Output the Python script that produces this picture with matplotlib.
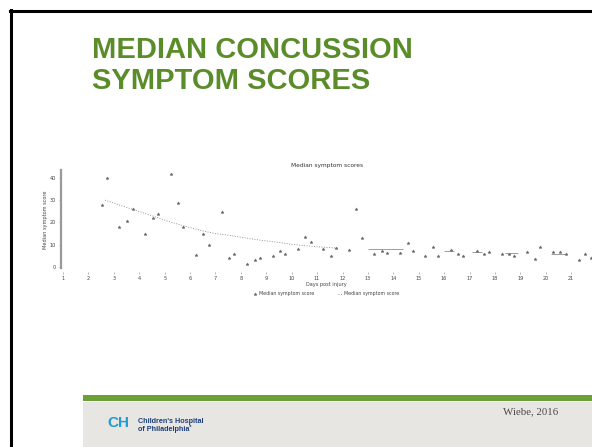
import matplotlib
matplotlib.use("Agg")
import matplotlib.pyplot as plt
from matplotlib.lines import Line2D
from matplotlib.patches import Rectangle

W, H = 592, 447

# scatter: median symptom score per time point (days post injury)
day = [2.52, 2.72, 3.22, 3.5, 3.74, 4.23, 4.53, 4.75, 5.24, 5.53, 5.74,
       6.24, 6.52, 6.75, 7.25, 7.52, 7.74, 8.26, 8.55, 8.76, 9.26, 9.54,
       9.75, 10.25, 10.54, 10.75, 11.25, 11.54, 11.75, 12.25, 12.54, 12.75,
       13.24, 13.55, 13.77, 14.27, 14.56, 14.77, 15.25, 15.55, 15.77,
       16.26, 16.56, 16.76, 17.29, 17.55, 17.76, 18.27, 18.57, 18.76,
       19.27, 19.56, 19.77, 20.28, 20.57, 20.79, 21.29, 21.56, 21.77]
score = [27.8, 39.8, 17.9, 20.8, 26.2, 15.0, 22.1, 23.8, 41.7, 28.8, 17.9,
         5.4, 14.9, 9.9, 24.8, 3.9, 6.0, 1.5, 3.0, 4.0, 5.1, 7.3,
         6.0, 7.9, 13.3, 11.1, 7.9, 4.9, 8.5, 7.5, 25.9, 12.9,
         5.8, 7.0, 6.4, 6.4, 10.9, 7.3, 4.9, 8.8, 4.9,
         7.6, 5.8, 4.9, 7.2, 5.8, 6.9, 5.8, 5.8, 5.1,
         6.9, 3.5, 8.8, 6.9, 6.9, 5.8, 3.0, 5.8, 3.9]

# smoothed median line (dashed part)
line_day = [2.65, 3.7, 4.5, 5.2, 5.8, 6.5, 7.0, 7.5, 8.1, 8.8, 9.6, 10.0,
            10.5, 11.0, 11.8]
line_val = [30.0, 26.0, 23.0, 20.3, 18.3, 16.2, 15.0, 14.3, 13.2, 12.0, 10.9,
            10.2, 9.6, 9.1, 8.5]
# flat stretches of the median line (start day, end day, value)
flat_start = [13.0, 16.0, 17.1, 18.4, 20.2]
flat_end = [14.4, 16.4, 17.5, 18.9, 20.8]
flat_val = [7.9, 7.3, 6.9, 6.1, 5.8]

x_ticks = list(range(1, 22))
y_ticks = [0, 10, 20, 30, 40]

green = "#5b8c2a"
gray = "#666666"

fig = plt.figure(figsize=(W / 100, H / 100), dpi=100)
fig.patch.set_facecolor("white")

def fx(px):
    return px / W

def fy(py):
    return 1 - py / H

# slide frame
fig.add_artist(Line2D([fx(11), fx(11)], [fy(10), 0], color="black", lw=2.2))
fig.add_artist(Line2D([fx(10), 1], [fy(10.5), fy(10.5)], color="black", lw=2.2))

# slide title
fig.text(fx(92), fy(50), "MEDIAN CONCUSSION", color=green, fontsize=21,
         fontweight="bold", family="Liberation Sans", va="center", ha="left")
fig.text(fx(92), fy(81), "SYMPTOM SCORES", color=green, fontsize=21,
         fontweight="bold", family="Liberation Sans", va="center", ha="left")

# chart
ax = fig.add_axes([fx(60.5), fy(272), fx(622) - fx(60.5), fy(170) - fy(272)])
ax.set_facecolor("none")
ax.plot(day, score, linestyle="none", marker="*", markersize=2.3,
        markeredgewidth=0.3, color=gray, label="Median symptom score")
ax.plot(line_day, line_val, linestyle=(0, (1.2, 1.8)), lw=0.6,
        color="#888888", label="Median symptom score")
ax.hlines(flat_val, flat_start, flat_end, color="#777777", lw=0.5)

ax.set_xlim(0.9, 23)
ax.set_ylim(-2.2, 43.5)
ax.set_xticks(x_ticks)
ax.set_yticks(y_ticks)
for s in ["top", "right", "bottom"]:
    ax.spines[s].set_visible(False)
ax.spines["left"].set_color("#999999")
ax.spines["left"].set_linewidth(1.6)
ax.spines["left"].set_bounds(-0.5, 43.5)
ax.tick_params(axis="x", length=1.2, width=0.5, color="#999999",
               labelsize=3.6, labelcolor="#444444", pad=1.5)
ax.tick_params(axis="y", length=1.5, width=0.5, color="#999999",
               labelsize=3.6, labelcolor="#444444", pad=1.5)

ax.set_xlabel("Days post injury", fontsize=3.6, color="#444444")
ax.xaxis.set_label_coords((326 - 60.5) / 561.5, -0.095)
ax.set_ylabel("Median symptom score", fontsize=3.6, color="#444444")
ax.yaxis.set_label_coords(-0.022, 0.51)

fig.text(fx(327), fy(166), "Median symptom scores", fontsize=4.2,
         color="#333333", ha="center", va="center")

ax.legend(loc="center", bbox_to_anchor=(fx(326), fy(294)),
          bbox_transform=fig.transFigure, ncol=2, frameon=False,
          fontsize=3.4, handlelength=1.0, handletextpad=0.4,
          columnspacing=5.0, labelcolor="#444444")

# footer
fig.add_artist(Rectangle((fx(83), 0), 1 - fx(83), fy(402), color="#e8e6e2",
                         lw=0))
fig.add_artist(Rectangle((fx(83), fy(401)), 1 - fx(83), fy(395) - fy(401),
                         color="#6aa137", lw=0))
fig.text(fx(107), fy(423), "CH", color="#1e9ad6", fontsize=11,
         fontweight="bold", family="Liberation Sans", ha="left", va="center")
fig.text(fx(138), fy(421.5), "Children's Hospital", color="#1d3f7a",
         fontsize=5.2, fontweight="bold", family="Liberation Sans",
         ha="left", va="center")
fig.text(fx(138), fy(429), "of Philadelphia\u02da", color="#1d3f7a",
         fontsize=5.2, fontweight="bold", family="Liberation Sans",
         ha="left", va="center")
fig.text(fx(503), fy(411.5), "Wiebe, 2016", color="#4a4a4a", fontsize=7.8,
         family="Liberation Serif", ha="left", va="center")

fig.savefig("out.png", dpi=100)
